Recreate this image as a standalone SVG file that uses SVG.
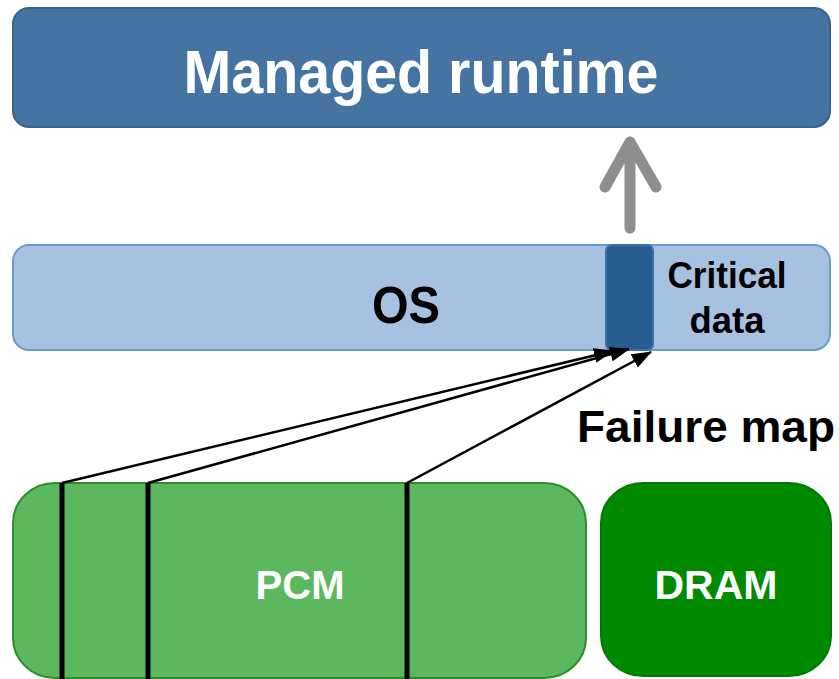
<svg xmlns="http://www.w3.org/2000/svg" width="839" height="679" viewBox="0 0 839 679">
<style>
.t{font-family:"Liberation Sans",Arial,sans-serif;font-weight:bold;text-anchor:middle}
.w{fill:#fff}
.k{fill:#000}
.conn{stroke:#000;stroke-width:2.5;fill:none;marker-end:url(#ah)}
.fail{stroke:#000;stroke-width:5}
</style>
<defs>
<marker id="ah" markerUnits="userSpaceOnUse" markerWidth="20" markerHeight="15" viewBox="0 0 20 15" refX="19" refY="7.5" orient="auto">
<path d="M0,0 L20,7.5 L0,15 Z" fill="#000"/>
</marker>
</defs>
<rect width="839" height="679" fill="#fff"/>
<g id="managed-runtime">
<rect x="13" y="8" width="817" height="119" rx="16" fill="#4674a2" stroke="#3a6290" stroke-width="2"/>
<text class="t w" x="421" y="93" font-size="62" textLength="475" lengthAdjust="spacingAndGlyphs">Managed runtime</text>
</g>
<g id="up-arrow">
<path d="M630,228 L630,142 M605,187 L630,142 L656,187" stroke="#8e8e8e" stroke-width="11" stroke-linecap="round" stroke-linejoin="round" fill="none"/>
</g>
<g id="os">
<rect x="13" y="245" width="817" height="105" rx="16" fill="#a7c1e1" stroke="#6d9bd0" stroke-width="2"/>
<text class="t k" x="406" y="323" font-size="51" textLength="68" lengthAdjust="spacingAndGlyphs">OS</text>
</g>
<g id="critical-data">
<rect x="606" y="245" width="47" height="105" rx="6" fill="#285d92" stroke="#3d6fa6" stroke-width="2"/>
<text class="t k" x="727" y="288" font-size="36" textLength="119" lengthAdjust="spacingAndGlyphs">Critical</text>
<text class="t k" x="727" y="333" font-size="36" textLength="75" lengthAdjust="spacingAndGlyphs">data</text>
</g>
<g id="failure-map-label">
<text class="t k" x="706" y="442" font-size="45" textLength="258" lengthAdjust="spacingAndGlyphs">Failure map</text>
</g>
<g id="pcm">
<rect x="13" y="483" width="573" height="195" rx="42" ry="40" fill="#5cb85f" stroke="#2e8b2e" stroke-width="2"/>
<text class="t w" x="300" y="599" font-size="41" textLength="89" lengthAdjust="spacingAndGlyphs">PCM</text>
<line class="fail" x1="62" y1="483" x2="62" y2="679"/>
<line class="fail" x1="148" y1="483" x2="148" y2="679"/>
<line class="fail" x1="407" y1="483" x2="407" y2="679"/>
</g>
<g id="dram">
<rect x="601" y="483" width="230" height="193" rx="42" ry="40" fill="#008a00" stroke="#007a00" stroke-width="2"/>
<text class="t w" x="716" y="599" font-size="41" textLength="123" lengthAdjust="spacingAndGlyphs">DRAM</text>
</g>
<g id="connectors">
<line class="conn" x1="62" y1="483" x2="613" y2="351"/>
<line class="conn" x1="148" y1="483" x2="629" y2="349"/>
<line class="conn" x1="407" y1="483" x2="651" y2="352"/>
</g>
</svg>
